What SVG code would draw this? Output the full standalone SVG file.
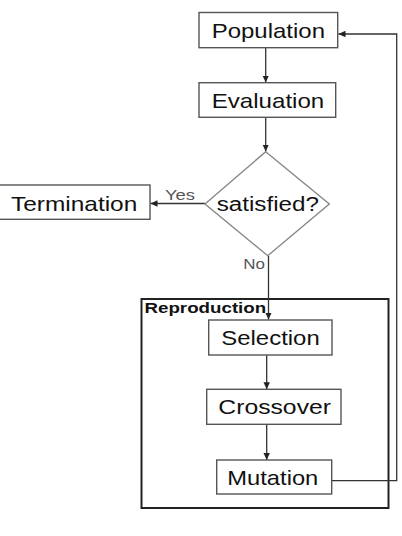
<svg xmlns="http://www.w3.org/2000/svg" width="402" height="536" viewBox="0 0 402 536">
<defs>
<marker id="ah" markerWidth="8" markerHeight="8" refX="7" refY="4" orient="auto" markerUnits="userSpaceOnUse">
<path d="M0,0.8 L7,4 L0,7.2 Z" fill="#222"/>
</marker>
<style>
.box{fill:#fff;stroke:#555;stroke-width:1.4}
.dia{fill:#fff;stroke:#888;stroke-width:1.4}
.lbl{font-family:"Liberation Sans",Arial,sans-serif;font-size:21px;fill:#111}
.small{font-family:"Liberation Sans",Arial,sans-serif;font-size:14px;fill:#555}
.grp{font-family:"Liberation Sans",Arial,sans-serif;font-size:14px;font-weight:bold;fill:#111}
.con{fill:none;stroke:#333;stroke-width:1.3}
</style>
</defs>
<rect width="402" height="536" fill="#fff"/>
<g id="reproduction">
<rect x="141.5" y="299" width="247" height="209" fill="none" stroke="#222" stroke-width="2"/>
<text class="grp" x="144.5" y="313.3" textLength="121.7" lengthAdjust="spacingAndGlyphs">Reproduction</text>
</g>
<g id="connectors">
<line class="con" x1="265.7" y1="47.7" x2="265.7" y2="82.5" marker-end="url(#ah)"/>
<line class="con" x1="265.7" y1="117.3" x2="265.7" y2="151.5" marker-end="url(#ah)"/>
<line class="con" x1="205" y1="203.5" x2="150.5" y2="203.5" marker-end="url(#ah)"/>
<line class="con" x1="268.5" y1="255.7" x2="268.5" y2="319.5" marker-end="url(#ah)"/>
<line class="con" x1="266.7" y1="355" x2="266.7" y2="389.3" marker-end="url(#ah)"/>
<line class="con" x1="266.7" y1="424.3" x2="266.7" y2="460" marker-end="url(#ah)"/>
<polyline class="con" points="331.7,480.7 396.7,480.7 396.7,34 338.5,34" marker-end="url(#ah)"/>
<text class="small" x="165" y="200" textLength="30" lengthAdjust="spacingAndGlyphs">Yes</text>
<text class="small" x="243.3" y="269" textLength="21.7" lengthAdjust="spacingAndGlyphs">No</text>
</g>
<g id="population">
<rect class="box" x="199" y="12.5" width="138.7" height="35.2"/>
<text class="lbl" x="211.7" y="38.3" textLength="113.3" lengthAdjust="spacingAndGlyphs">Population</text>
</g>
<g id="evaluation">
<rect class="box" x="199" y="82.7" width="136.7" height="34.6"/>
<text class="lbl" x="211.7" y="107.6" textLength="112.6" lengthAdjust="spacingAndGlyphs">Evaluation</text>
</g>
<g id="satisfied">
<polygon class="dia" points="265.7,151.7 329.3,204 267.7,255.7 205,204"/>
<text class="lbl" x="216.7" y="211" textLength="102.3" lengthAdjust="spacingAndGlyphs" style="font-size:20px">satisfied?</text>
</g>
<g id="termination">
<rect class="box" x="-1" y="185" width="151" height="34.3"/>
<text class="lbl" x="11" y="210.7" textLength="126.3" lengthAdjust="spacingAndGlyphs">Termination</text>
</g>
<g id="selection">
<rect class="box" x="208.7" y="320" width="123.3" height="35"/>
<text class="lbl" x="221.3" y="345" textLength="98.4" lengthAdjust="spacingAndGlyphs">Selection</text>
</g>
<g id="crossover">
<rect class="box" x="206.7" y="389.3" width="134.3" height="35"/>
<text class="lbl" x="218.3" y="414.3" textLength="112.7" lengthAdjust="spacingAndGlyphs">Crossover</text>
</g>
<g id="mutation">
<rect class="box" x="216.7" y="460" width="115" height="34"/>
<text class="lbl" x="227.3" y="485" textLength="91" lengthAdjust="spacingAndGlyphs">Mutation</text>
</g>
</svg>
